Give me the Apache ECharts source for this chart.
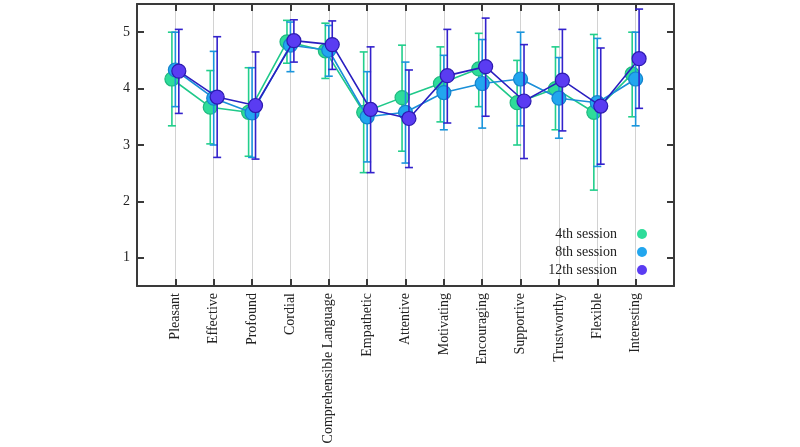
<!DOCTYPE html>
<html>
<head>
<meta charset="utf-8">
<script src="https://cdn.jsdelivr.net/npm/echarts@6/dist/echarts.min.js"></script>
<style>
  html, body { margin: 0; padding: 0; background: #fff; }
  #chart { width: 800px; height: 447px; }
</style>
</head>
<body>
<div id="chart"></div>
<script>
const categories = ['Pleasant', 'Effective', 'Profound', 'Cordial', 'Comprehensible Language',
  'Empathetic', 'Attentive', 'Motivating', 'Encouraging', 'Supportive', 'Trustworthy', 'Flexible', 'Interesting']
const sessions = ['4th session', '8th session', '12th session']
const yTicks = [1, 2, 3, 4, 5]

// mean ratings with error bar ends (low / high)
const mean4 = [4.17, 3.67, 3.58, 4.83, 4.67, 3.58, 3.84, 4.09, 4.35, 3.75, 4.00, 3.58, 4.26]
const low4 = [3.34, 3.02, 2.80, 4.45, 4.18, 2.51, 2.89, 3.41, 3.68, 3.00, 3.27, 2.20, 3.50]
const high4 = [5.00, 4.32, 4.37, 5.21, 5.16, 4.65, 4.77, 4.74, 4.98, 4.50, 4.74, 4.96, 5.00]

const mean8 = [4.33, 3.83, 3.57, 4.77, 4.68, 3.50, 3.58, 3.93, 4.09, 4.17, 3.83, 3.75, 4.17]
const low8 = [3.68, 3.00, 2.78, 4.30, 4.22, 2.70, 2.68, 3.27, 3.30, 3.34, 3.12, 2.62, 3.34]
const high8 = [5.00, 4.66, 4.37, 5.18, 5.12, 4.30, 4.47, 4.59, 4.87, 5.00, 4.55, 4.89, 5.00]

const mean12 = [4.31, 3.85, 3.70, 4.85, 4.78, 3.63, 3.47, 4.23, 4.39, 3.78, 4.15, 3.69, 4.53]
const low12 = [3.56, 2.78, 2.75, 4.47, 4.34, 2.51, 2.60, 3.39, 3.51, 2.76, 3.25, 2.66, 3.65]
const high12 = [5.05, 4.92, 4.65, 5.22, 5.20, 4.74, 4.33, 5.05, 5.25, 4.78, 5.05, 4.72, 5.41]

const FONT = '"Liberation Serif", "DejaVu Serif", serif'
const AXIS = '#3a3a3a'
const xPos = categories.map((c, i) => i + 1)

const styles = [
  { fill: '#2edc9a', border: '#1fb97f', line: '#1fc98a', bar: '#22cf8c', shift: -0.09 },
  { fill: '#22a6ee', border: '#1583cc', line: '#1a8fd8', bar: '#1a95dc', shift: 0 },
  { fill: '#5a3cf2', border: '#2c1ab0', line: '#2a1fc0', bar: '#3322cc', shift: 0.09 },
]
const means = [mean4, mean8, mean12]
const lows = [low4, low8, low12]
const highs = [high4, high8, high12]

function errorSeries(k) {
  const st = styles[k]
  return {
    type: 'custom',
    z: 2 + k * 2,
    silent: true,
    encode: { x: 0, y: [1, 2] },
    data: means[k].map((v, i) => [xPos[i] + st.shift, lows[k][i], highs[k][i]]),
    renderItem(params, api) {
      const x = api.value(0)
      const lo = api.coord([x, api.value(1)])
      const hi = api.coord([x, api.value(2)])
      const hw = 4
      const s = { stroke: st.bar, lineWidth: 1.6 }
      return {
        type: 'group',
        children: [
          { type: 'line', shape: { x1: lo[0], y1: lo[1], x2: hi[0], y2: hi[1] }, style: s },
          { type: 'line', shape: { x1: hi[0] - hw, y1: hi[1], x2: hi[0] + hw, y2: hi[1] }, style: s },
          { type: 'line', shape: { x1: lo[0] - hw, y1: lo[1], x2: lo[0] + hw, y2: lo[1] }, style: s },
        ],
      }
    },
  }
}

function lineSeries(k) {
  const st = styles[k]
  return {
    name: sessions[k],
    type: 'line',
    z: 3 + k * 2,
    symbol: 'circle',
    symbolSize: 14,
    data: means[k].map((v, i) => [xPos[i] + st.shift, v]),
    lineStyle: { color: st.line, width: 1.6 },
    itemStyle: { color: st.fill, borderColor: st.border, borderWidth: 1.2 },
  }
}

const xCommon = {
  type: 'value', min: 0, max: 14,
  axisLine: { show: true, onZero: false, lineStyle: { color: AXIS, width: 2 } },
  axisTick: { show: true, inside: true, length: 7, customValues: xPos, lineStyle: { color: AXIS, width: 2 } },
}
const yCommon = {
  type: 'value', min: 0.5, max: 5.5,
  axisLine: { show: true, onZero: false, lineStyle: { color: AXIS, width: 2 } },
  axisTick: { show: true, inside: true, length: 7, customValues: yTicks, lineStyle: { color: AXIS, width: 2 } },
  splitLine: { show: false },
}

const chart = echarts.init(document.getElementById('chart'))
chart.setOption({
  animation: false,
  backgroundColor: '#fff',
  grid: { left: 137, right: 126, top: 4, bottom: 161 },
  legend: {
    data: sessions,
    orient: 'vertical',
    align: 'right',
    right: 148,
    top: 222,
    icon: 'circle',
    itemWidth: 40,
    itemHeight: 10,
    itemGap: 4,
    itemStyle: { borderWidth: 0 },
    textStyle: { fontFamily: FONT, fontSize: 14, color: '#222' },
  },
  xAxis: [
    {
      ...xCommon,
      position: 'bottom',
      axisLabel: {
        customValues: xPos,
        rotate: 90,
        margin: 7,
        fontFamily: FONT, fontSize: 14, color: '#222',
        formatter: v => categories[Math.round(v) - 1] || '',
      },
      splitLine: { show: true, lineStyle: { color: '#d2d2d2', width: 1 } },
    },
    { ...xCommon, position: 'top', axisLabel: { show: false }, splitLine: { show: false } },
  ],
  yAxis: [
    {
      ...yCommon,
      position: 'left',
      axisLabel: { customValues: yTicks, margin: 7, fontFamily: FONT, fontSize: 14, color: '#222' },
    },
    { ...yCommon, position: 'right', axisLabel: { show: false } },
  ],
  series: [0, 1, 2].flatMap(k => [errorSeries(k), lineSeries(k)]),
})
window.addEventListener('resize', () => chart.resize())
</script>
</body>
</html>
